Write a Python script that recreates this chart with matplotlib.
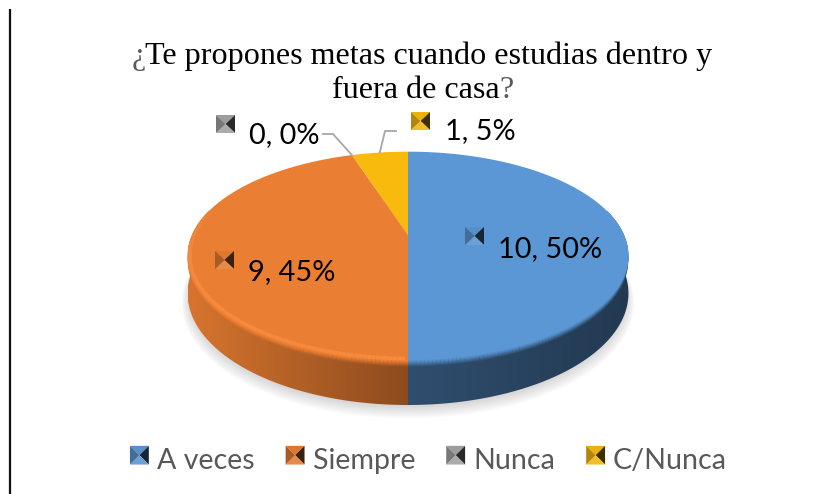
import numpy as np
import matplotlib
matplotlib.use("Agg")
import matplotlib.pyplot as plt
from matplotlib.path import Path
from matplotlib.transforms import Transform, Affine2D
from matplotlib.patches import Polygon, Patch
from matplotlib.collections import LineCollection
from matplotlib.legend_handler import HandlerBase
from matplotlib.colors import to_rgb

categories = ["A veces", "Siempre", "Nunca", "C/Nunca"]
values = [10, 9, 0, 1]
colors = ["#5B97D5", "#EA7E32", "#A5A5A5", "#F8BA0C"]
title_lines = ["Te propones metas cuando estudias dentro y", "fuera de casa"]

CX, CY, A, B, K, DEPTH = 408.0, 235.0, 216.0, 100.0, 0.2, 36.0


def project(x, y, drop=0.0):
    w = 1 + K * np.asarray(y)
    return CX + A * np.asarray(x) / w, CY - B * np.asarray(y) / w + drop / w


class Perspective(Transform):
    input_dims = output_dims = 2
    is_separable = False
    has_inverse = False

    def transform_non_affine(self, values):
        px, py = project(values[:, 0], values[:, 1])
        return np.column_stack([px, py])

    def transform_path_non_affine(self, path):
        # flatten the wedge's Bezier arcs first so the mapped outline stays smooth
        polys = path.transformed(Affine2D().scale(2000)).to_polygons()
        if not polys:
            return Path(np.empty((0, 2)))
        return Path(self.transform_non_affine(polys[0] / 2000))


def pyramid(x, y, w, h, base):
    c = np.array(to_rgb(base))
    tip = (x + w / 2, y + h / 2)
    p = [(x, y), (x + w, y), (x + w, y + h), (x, y + h)]
    shades = [c * 0.95, c * 0.25, c * 0.85 + 0.12, c * 0.72]
    sides = [(p[0], p[1]), (p[1], p[2]), (p[2], p[3]), (p[3], p[0])]
    return [Polygon([a, b, tip], closed=True, facecolor=np.clip(s, 0, 1), edgecolor="none")
            for (a, b), s in zip(sides, shades)]


class PyramidHandler(HandlerBase):
    def create_artists(self, legend, orig, xd, yd, width, height, fontsize, trans):
        lift = height * 0.2
        arts = pyramid(-xd, -yd + height + lift, width, -height, orig.get_facecolor())
        for a in arts:
            a.set_transform(trans)
        return arts


fig = plt.figure(figsize=(8.22, 4.94), dpi=100)
ax = fig.add_axes([0, 0, 1, 1])

total = sum(values)
fracs = np.array(values) / total
edges = np.concatenate([[0], np.cumsum(fracs)]) * 2 * np.pi  # clockwise from top


def slice_index(t):
    return min(np.searchsorted(edges, t % (2 * np.pi), side="right") - 1, len(values) - 1)


def side_colour(t):
    X = np.sin(t)
    c = np.array(to_rgb(colors[slice_index(t)]))
    if X >= 0:
        return c * (0.52 - 0.14 * X)
    return c * (0.60 + 0.32 * abs(X))


# soft shadow under the disc
T = np.linspace(0, 2 * np.pi, 200)
for r, d in zip(np.linspace(1.025, 0.985, 9), np.linspace(9, 2, 9)):
    sx, sy = project(r * np.sin(T), r * np.cos(T), DEPTH)
    ax.fill(sx, sy + d, color="#555555", alpha=0.03, lw=0, zorder=1)

# extruded side of the disc: a horizontal colour ramp clipped to the side's outline
steps = np.linspace(np.pi / 2 - 0.25, 3 * np.pi / 2 + 0.25, 241)
xtop, ytop = project(np.sin(steps), np.cos(steps))
xbot, ybot = project(np.sin(steps), np.cos(steps), DEPTH)
outline = np.column_stack([np.r_[xtop, xbot[::-1]], np.r_[ytop, ybot[::-1]]])
clip = Polygon(outline, closed=True, transform=ax.transData, facecolor="none", edgecolor="none")
ax.add_patch(clip)
xs = np.linspace(outline[:, 0].min(), outline[:, 0].max(), 500)
half = (outline[:, 0].max() - outline[:, 0].min()) / 2
ramp_t = np.pi - np.arcsin(np.clip((xs - CX) / half, -1, 1))
ramp = np.array([side_colour(t) for t in ramp_t])[None, :, :]
img = ax.imshow(ramp, extent=[xs[0], xs[-1], outline[:, 1].max(), outline[:, 1].min()],
                aspect="auto", zorder=2, interpolation="nearest")
img.set_clip_path(clip)

# bevel between top surface and side, kept just inside the silhouette
bevel_r = 0.994
for drop, f in zip([5, 4, 3, 2, 1, 0], [0.15, 0.35, 0.55, 0.75, 0.9, 1.0]):
    segs, cols = [], []
    for t0, t1 in zip(steps[:-1], steps[1:]):
        p0 = project(bevel_r * np.sin(t0), bevel_r * np.cos(t0), drop)
        p1 = project(bevel_r * np.sin(t1), bevel_r * np.cos(t1), drop)
        segs.append([p0, p1])
        tm = (t0 + t1) / 2
        top = np.array(to_rgb(colors[slice_index(tm)]))
        if np.sin(tm) < 0:
            top = np.clip(top * 1.06, 0, 1)
        cols.append(side_colour(tm) * (1 - f) + top * f)
    ax.add_collection(LineCollection(segs, colors=cols, linewidths=1.6, zorder=3))

# top surface: real pie wedges passed through the perspective mapping
wedges, _ = ax.pie(values, colors=colors, startangle=90, counterclock=False, frame=False)
persp = Perspective()
for w in wedges:
    w.set_transform(persp + ax.transData)
    w.set_zorder(4)
    w.set_linewidth(0)

# lighter orange rim along the front-left of the top surface, fading towards the back
rim_t = np.linspace(edges[1] + 0.01, 3 * np.pi / 2 + 0.35, 120)
rx, ry = project(0.99 * np.sin(rim_t), 0.99 * np.cos(rim_t))
rim_pts = np.column_stack([rx, ry])
rim_segs = np.stack([rim_pts[:-1], rim_pts[1:]], axis=1)
rim_alpha = np.clip((3 * np.pi / 2 + 0.35 - rim_t[:-1]) / 0.6, 0, 1)
rim_cols = [(*to_rgb("#F68A3E"), a) for a in rim_alpha]
ax.add_collection(LineCollection(rim_segs, colors=rim_cols, linewidths=2.6, zorder=5, capstyle="butt"))

ax.set_aspect("auto")
ax.set_xlim(0, 822)
ax.set_ylim(494, 0)
ax.axis("off")


# leader lines
def mid_edge(i, r=1.0):
    t = (edges[i] + edges[i + 1]) / 2
    return project(r * np.sin(t), r * np.cos(t))


gx, gy = mid_edge(2)
yx, yy = mid_edge(3)
ax.plot([323, 333, gx], [134, 134, gy], color="#A6A6A6", lw=1.3, zorder=6)
ax.plot([396, 385, yx], [131, 131, yy], color="#A6A6A6", lw=1.3, zorder=6)

# data labels
label_font = "Lato"
label_fs = 20.8
layout = [(498, 257, 465, 227), (248, 280, 215, 251), (249, 143, 216, 115), (445, 139, 411, 112)]
for v, col, (tx, ty, mx, my) in zip(values, colors, layout):
    ax.text(tx, ty, f"{v}, {round(100 * v / total)}%", family=label_font, fontsize=label_fs,
            color="#000000", ha="left", va="baseline", zorder=8)
    for poly in pyramid(mx, my, 19, 18, col):
        poly.set_zorder(7)
        ax.add_patch(poly)

# title
fig.canvas.draw()
rend = fig.canvas.get_renderer()
title_fs = 23.1
t1 = ax.text(429, 64, title_lines[0], family="Liberation Serif", fontsize=title_fs, color="#000000",
             ha="center", va="baseline")
t2 = ax.text(416, 98, title_lines[1], family="Liberation Serif", fontsize=title_fs, color="#000000",
             ha="center", va="baseline")
b1 = t1.get_window_extent(rend)
b2 = t2.get_window_extent(rend)
inv = ax.transData.inverted()
lx = inv.transform((b1.x0, 0))[0]
rx2 = inv.transform((b2.x1, 0))[0]
ax.text(lx, 64, "¿", family="Liberation Serif", fontsize=title_fs, color="#595959", ha="right", va="baseline")
ax.text(rx2, 98, "?", family="Liberation Serif", fontsize=title_fs, color="#595959", ha="left", va="baseline")

# page rule on the left
ax.plot([10, 10], [9, 494], color="#111111", lw=1.6, zorder=9, solid_capstyle="butt")

# legend
handles = [Patch(facecolor=c, label=n) for c, n in zip(colors, categories)]
leg = ax.legend(handles=handles, ncol=4, loc="center", bbox_to_anchor=(428.5 / 822, 1 - 461 / 494),
                frameon=False, prop={"family": "Lato", "size": 20.6},
                labelcolor="#595959", handler_map={Patch: PyramidHandler()},
                handlelength=0.66, handleheight=0.63, handletextpad=0.28, columnspacing=1.09,
                borderpad=0, borderaxespad=0)
fig.savefig("out.png", dpi=100)
